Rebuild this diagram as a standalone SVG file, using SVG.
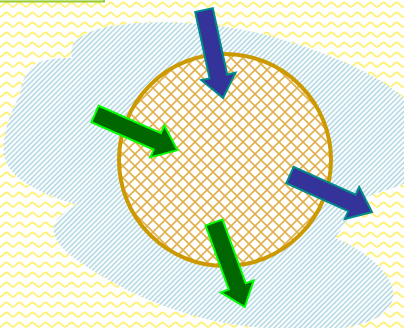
<svg xmlns="http://www.w3.org/2000/svg" width="404" height="328" viewBox="0 0 404 328">
  <style>
    .blueArrow { fill: #333399; stroke: #008b8b; stroke-width: 2; stroke-linejoin: miter; }
    .greenArrow { fill: #006600; stroke: #00ff00; stroke-width: 2; stroke-linejoin: miter; }
  </style>
  <defs>
    <pattern id="zigzag" patternUnits="userSpaceOnUse" width="13" height="10">
      <path d="M-0.5,7 C2.5,7 4,2.5 6.5,2.5 C9,2.5 10.5,7 13.5,7" fill="none" stroke="#fff27a" stroke-width="2"/>
    </pattern>
    <pattern id="stripes" patternUnits="userSpaceOnUse" width="3.6" height="10" patternTransform="rotate(45)">
      <rect x="0" y="0" width="1.6" height="10" fill="#b3d9e3"/>
    </pattern>
    <pattern id="cross" patternUnits="userSpaceOnUse" width="12" height="12" x="225" y="160">
      <path d="M0,0 L12,12 M12,0 L0,12" stroke="#e0b04c" stroke-width="1.6" fill="none"/>
    </pattern>
    <path id="arrowShape" d="M0,-9 L68,-9 L68,-17.5 L90,0 L68,17.5 L68,9 L0,9 Z"/>
  </defs>

  <g id="background">
    <rect x="0" y="0" width="404" height="328" fill="#ffffff"/>
    <rect x="0" y="0" width="404" height="328" fill="url(#zigzag)"/>
  </g>

  <g id="corner-box">
    <rect x="-4" y="-12" width="108" height="13.5" fill="#f2f9e6" stroke="#99cc33" stroke-width="2"/>
  </g>

  <g id="cloud">
    <path d="M72,58 C66,40 90,28 120,25 C160,19 230,22 290,42 C340,58 390,80 410,105 L410,180 C400,188 380,190 368,197 C355,205 345,225 335,238 C360,248 395,272 393,296 C391,315 370,322 350,327 C320,332 260,330 220,322 C170,312 120,290 80,262 C60,250 48,232 56,222 C60,214 70,208 77,205 C45,195 8,180 4,155 C2,130 12,110 20,95 C22,78 30,65 40,62 C50,58 62,58 72,58 Z" fill="#ffffff"/>
    <path d="M72,58 C66,40 90,28 120,25 C160,19 230,22 290,42 C340,58 390,80 410,105 L410,180 C400,188 380,190 368,197 C355,205 345,225 335,238 C360,248 395,272 393,296 C391,315 370,322 350,327 C320,332 260,330 220,322 C170,312 120,290 80,262 C60,250 48,232 56,222 C60,214 70,208 77,205 C45,195 8,180 4,155 C2,130 12,110 20,95 C22,78 30,65 40,62 C50,58 62,58 72,58 Z" fill="url(#stripes)"/>
  </g>

  <g id="circle">
    <circle cx="225" cy="160" r="106" fill="#ffffff"/>
    <circle cx="225" cy="160" r="106" fill="url(#cross)" stroke="#cc9900" stroke-width="4"/>
  </g>

  <g id="arrows">
    <g id="arrow-top">
      <use href="#arrowShape" class="blueArrow" transform="translate(204,10) rotate(77.8)"/>
    </g>
    <g id="arrow-left">
      <use href="#arrowShape" class="greenArrow" transform="translate(95,114) rotate(23.7)"/>
    </g>
    <g id="arrow-right">
      <use href="#arrowShape" class="blueArrow" transform="translate(290,175) rotate(24.3)"/>
    </g>
    <g id="arrow-bottom">
      <use href="#arrowShape" class="greenArrow" transform="translate(214,222.5) rotate(70)"/>
    </g>
  </g>
</svg>
